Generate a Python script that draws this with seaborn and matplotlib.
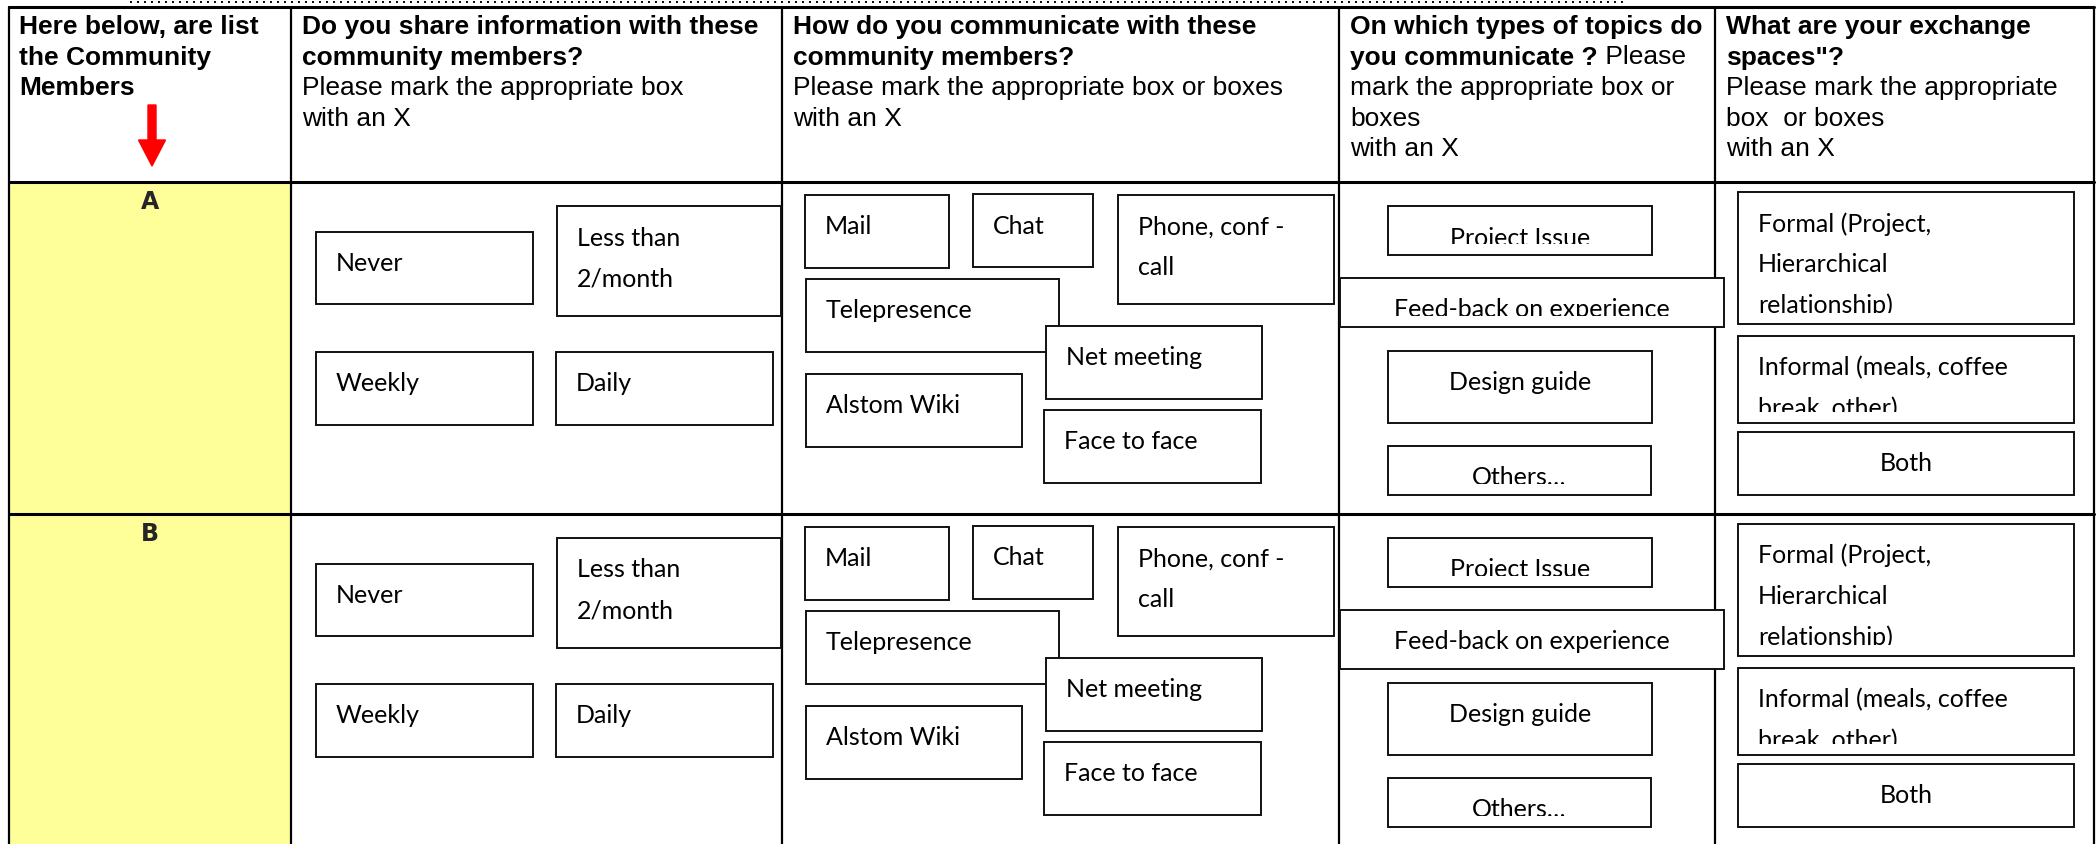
import matplotlib
matplotlib.use("Agg")
import matplotlib.pyplot as plt
import matplotlib.patches as mpatches
import seaborn as sns

# Table content
row_labels = ["A", "B"]

header_lines = [
    [[("Here below, are list", "bold")], [("the Community", "bold")], [("Members", "bold")]],
    [[("Do you share information with these", "bold")], [("community members?", "bold")],
     [("Please mark the appropriate box", "normal")], [("with an X", "normal")]],
    [[("How do you communicate with these", "bold")], [("community members?", "bold")],
     [("Please mark the appropriate box or boxes", "normal")], [("with an X", "normal")]],
    [[("On which types of topics do", "bold")], [("you communicate ?", "bold"), (" Please", "normal")],
     [("mark the appropriate box or", "normal")], [("boxes", "normal")], [("with an X", "normal")]],
    [[("What are your exchange", "bold")], [('spaces"?', "bold")],
     [("Please mark the appropriate", "normal")], [("box  or boxes", "normal")], [("with an X", "normal")]],
]

freq_labels = ["Never", "Less than\n2/month", "Weekly", "Daily"]
channel_labels = ["Mail", "Chat", "Phone, conf -\ncall", "Telepresence",
                  "Net meeting", "Alstom Wiki", "Face to face"]
topic_labels = ["Project Issue", "Feed-back on experience", "Design guide", "Others\u2026"]
space_labels = ["Formal (Project,\nHierarchical\nrelationship)",
                "Informal (meals, coffee\nbreak, other)", "Both"]

# Layout (pixels, y measured from the row top)
col_edges = [9, 291, 782, 1339, 1715, 2094]
row_tops = [183, 515]

freq_boxes = [(316, 50, 533, 122), (557, 24, 781, 134), (316, 170, 533, 243), (556, 170, 773, 243)]
channel_boxes = [(805, 13, 949, 86), (973, 12, 1093, 85), (1118, 13, 1334, 122),
                 (806, 97, 1059, 170), (1046, 144, 1262, 217), (806, 192, 1022, 265),
                 (1044, 228, 1261, 301)]
topic_boxes = [(1388, 24, 1652, 73), (1340, 96, 1724, 145), (1388, 169, 1652, 241),
               (1388, 264, 1651, 313)]
feedback_bottom = [145, 155]
space_boxes = [(1738, 10, 2074, 142), (1738, 154, 2074, 241), (1738, 250, 2074, 313)]

sns.set_theme(style="white")
head_font = "Liberation Sans"
box_font = "Lato"

fig = plt.figure(figsize=(20.96, 8.45), dpi=100)
ax = fig.add_axes([0, 0, 1, 1])
ax.set_xlim(0, 2096)
ax.set_ylim(845, 0)
ax.axis("off")

# dotted rule above the table
ax.plot([130, 1624], [2.5, 2.5], color="black", lw=1.4, ls=(0, (1, 2.6)), solid_capstyle="butt")

# yellow member column
ax.add_patch(mpatches.Rectangle((col_edges[0], row_tops[0]), col_edges[1] - col_edges[0], 845 - row_tops[0],
                                facecolor="#FFFF99", edgecolor="none", zorder=0.5))

# grid lines
for x in col_edges:
    ax.plot([x, x], [8, 845], color="black", lw=1.6, zorder=1.5)
for y in [8] + row_tops:
    ax.plot([col_edges[0], col_edges[-1]], [y, y], color="black", lw=2.2, zorder=1.5)

# header text
for c, lines in enumerate(header_lines):
    x0 = col_edges[c] + (10 if c == 0 else 11)
    for i, segs in enumerate(lines):
        y = 34 + 30.5 * i
        prev = None
        for txt, w in segs:
            if prev is None:
                prev = ax.text(x0, y, txt, fontsize=19, fontweight=w, family=head_font,
                               va="baseline", ha="left", color="black")
            else:
                prev = ax.annotate(txt, xy=(1, 0), xycoords=prev, fontsize=19, fontweight=w,
                                   family=head_font, va="bottom", ha="left", color="black")

# red arrow
ax.add_patch(mpatches.FancyArrow(152, 106, 0, 61, width=8, head_width=27, head_length=26,
                                 length_includes_head=True, color="#FF0000", zorder=3))

z = [2.0]


def draw_box(top, box, label, align):
    x0, y0, x1, y1 = box
    y0 += top
    y1 += top
    z[0] += 0.01
    ax.add_patch(mpatches.Rectangle((x0, y0), x1 - x0, y1 - y0, facecolor="white",
                                    edgecolor="#111111", lw=1.4, zorder=z[0]))
    # text frame inside the box cuts off the last line like in the form
    clip = mpatches.Rectangle((x0, y0), x1 - x0, y1 - y0 - 11, transform=ax.transData)
    for i, line in enumerate(label.split("\n")):
        if align == "center":
            tx, ha = (x0 + x1) / 2, "center"
        else:
            tx, ha = x0 + 20, "left"
        t = ax.text(tx, y0 + 38.5 + 41 * i, line, fontsize=18, family=box_font, ha=ha,
                    va="baseline", color="black", zorder=z[0] + 0.005, clip_on=True)
        t.set_clip_path(clip)


for r, top in enumerate(row_tops):
    ax.text((col_edges[0] + col_edges[1]) / 2, top + 26, row_labels[r], fontsize=17,
            fontweight="bold", family="DejaVu Sans", ha="center", va="baseline", zorder=3)
    for lab, b in zip(freq_labels, freq_boxes):
        draw_box(top, b, lab, "left")
    for lab, b in zip(channel_labels, channel_boxes):
        draw_box(top, b, lab, "left")
    for k, (lab, b) in enumerate(zip(topic_labels, topic_boxes)):
        if k == 1:
            b = (b[0], b[1], b[2], feedback_bottom[r])
        draw_box(top, b, lab, "center")
    for lab, b in zip(space_labels, space_boxes):
        draw_box(top, b, lab, "center" if lab == "Both" else "left")

fig.savefig("out.png", dpi=100)
